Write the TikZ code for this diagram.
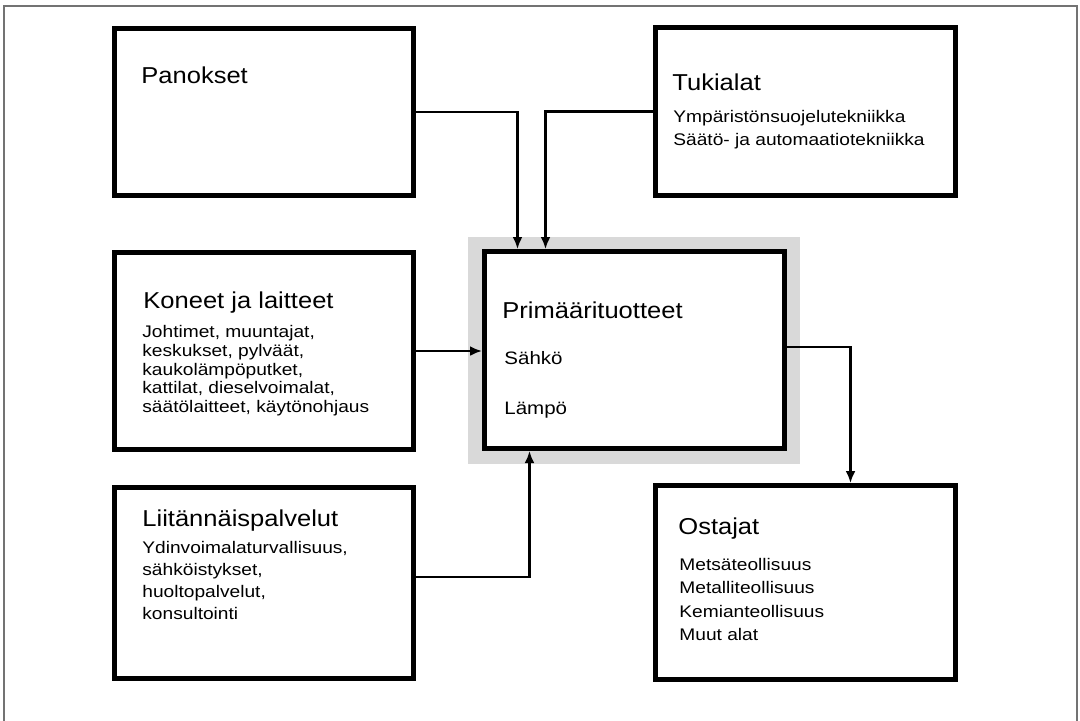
\documentclass[tikz,border=0pt]{standalone}
\usepackage{fontspec}
\newfontfamily\diagfont[FakeStretch=1.14]{Liberation Sans}
\newfontfamily\headfont[FakeStretch=1.11]{Liberation Sans}
\usepackage{tikz}
\usetikzlibrary{arrows.meta}
\usetikzlibrary{calc}

\begin{document}
\begin{tikzpicture}[x=0.5pt, y=-0.5pt,
        box/.style={draw, line width=2.5pt, inner sep=0pt, fill=white},
        head/.style={anchor=north west, inner sep=0pt,
                     font=\headfont\fontsize{11.5}{13}\selectfont},
        body/.style={anchor=north west, inner sep=0pt, align=left,
                     font=\diagfont\fontsize{8.4}{11.5}\selectfont},
        arr/.style={line width=1.2pt, -{Latex[length=6pt,width=5pt]}}]
        \useasboundingbox (0,0) rectangle (1080,720);
        \draw[black!55, line width=0.7pt] (4,725) |- (1077,6) -- (1077,725);

        % boxes
        \node[box, minimum width=149.5pt, minimum height=83.5pt] (pan) at (264,112) {};
        \node[box, minimum width=150pt, minimum height=84pt] (tuk) at (805.5,111.5) {};
        \node[box, minimum width=149.5pt, minimum height=98.5pt] (kon) at (264,351) {};
        \node[box, minimum width=149.5pt, minimum height=95.5pt] (lii) at (264,583) {};
        \node[box, minimum width=150pt, minimum height=97pt] (ost) at (805.5,582.5) {};
        \node[fill=black!15, inner sep=0pt, minimum width=166pt, minimum height=113.5pt]
              (shade) at (634,350.5) {};
        \node[box, minimum width=150pt, minimum height=98.5pt] (prim) at (634.5,350) {};

        % texts
        \node[head] (panhead) at (141,66) {Panokset};

        \node[head] (tukhead) at (672,73) {Tukialat};
        \node[body] (tukbody) at (673,110) {Ympäristönsuojelutekniikka\\
                Säätö- ja automaatiotekniikka};

        \node[head] (konhead) at (143,291) {Koneet ja laitteet};
        \node[body, font=\diagfont\fontsize{8.4}{9.4}\selectfont] (konbody) at (142,325)
              {Johtimet, muuntajat,\\ keskukset, pylväät,\\ kaukolämpöputket,\\
               kattilat, dieselvoimalat,\\ säätölaitteet, käytönohjaus};

        \node[head] (liihead) at (142,509) {Liitännäispalvelut};
        \node[body, font=\diagfont\fontsize{8.4}{11}\selectfont] (liibody) at (142,541)
              {Ydinvoimalaturvallisuus,\\ sähköistykset,\\ huoltopalvelut,\\ konsultointi};

        \node[head] (primhead) at (502,301) {Primäärituotteet};
        \node[body, font=\diagfont\fontsize{9}{11}\selectfont] (sahko) at (504,351) {Sähkö};
        \node[body, font=\diagfont\fontsize{9}{11}\selectfont] (lampo) at (504,402) {Lämpö};

        \node[head] (osthead) at (678,517) {Ostajat};
        \node[body, font=\diagfont\fontsize{8.4}{11.7}\selectfont] (ostbody) at (679,558)
              {Metsäteollisuus\\ Metalliteollisuus\\ Kemianteollisuus\\ Muut alat};

        % connectors
        \draw[arr] (pan.east) -| ($(prim.north west)+(35.5,0)$);
        \draw[arr] (tuk.west) -| ($(prim.north west)+(63.5,0)$);
        \draw[arr] (kon.east) -- (kon.east -| prim.west);
        \draw[arr] ($(lii.east)+(0,-6)$) -| ($(prim.south west)+(47.5,0)$);
        \draw[arr] ($(prim.east)+(0,-3)$) -| ($(ost.north west)+(197.5,0)$);
      \end{tikzpicture}
\end{document}
